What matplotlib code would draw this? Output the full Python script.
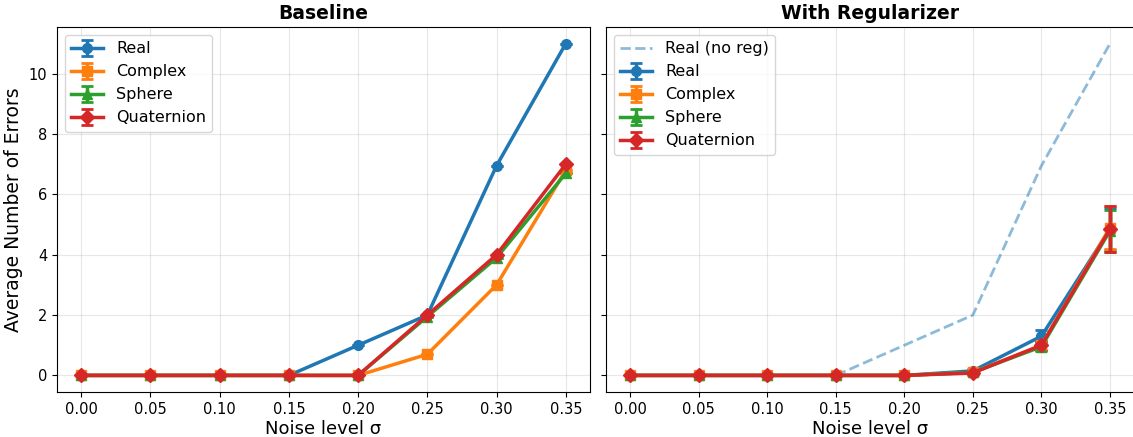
import numpy as np
import matplotlib.pyplot as plt

sigma = [0.00, 0.05, 0.10, 0.15, 0.20, 0.25, 0.30, 0.35]

base_real = [0, 0, 0, 0, 1.0, 2.0, 6.95, 11.0]
base_complex = [0, 0, 0, 0, 0, 0.7, 3.0, 6.8]
base_sphere = [0, 0, 0, 0, 0, 1.95, 3.9, 6.7]
base_quat = [0, 0, 0, 0, 0, 2.0, 4.0, 7.0]
base_err = [0, 0, 0, 0, 0, 0, 0, 0]

reg_real = [0, 0, 0, 0, 0, 0.15, 1.3, 4.85]
reg_real_err = [0, 0, 0, 0, 0, 0.05, 0.2, 0.7]
reg_complex = [0, 0, 0, 0, 0, 0.1, 1.0, 4.9]
reg_complex_err = [0, 0, 0, 0, 0, 0.05, 0.15, 0.7]
reg_sphere = [0, 0, 0, 0, 0, 0.1, 0.95, 4.8]
reg_sphere_err = [0, 0, 0, 0, 0, 0.05, 0.15, 0.7]
reg_quat = [0, 0, 0, 0, 0, 0.08, 1.0, 4.85]
reg_quat_err = [0, 0, 0, 0, 0, 0.05, 0.15, 0.75]

labels = ['Real', 'Complex', 'Sphere', 'Quaternion']
colors = ['#1f77b4', '#ff7f0e', '#2ca02c', '#d62728']
markers = ['o', 's', '^', 'D']

W, H = 1133, 437
fig, axes = plt.subplots(1, 2, figsize=(W / 100, H / 100), dpi=100, sharey=True)
axes[0].set_position([57 / W, 45 / H, 533 / W, 365 / H])
axes[1].set_position([606 / W, 45 / H, 528 / W, 365 / H])

ax = axes[0]
for y, lab, c, m in zip([base_real, base_complex, base_sphere, base_quat], labels, colors, markers):
    ax.errorbar(sigma, y, yerr=base_err, label=lab, color=c, marker=m,
                linewidth=2.5, markersize=7, capsize=4, capthick=2)
ax.set_title('Baseline', fontsize=13.5, fontweight='bold')
ax.set_xlabel('Noise level σ', fontsize=13, labelpad=2)
ax.set_ylabel('Average Number of Errors', fontsize=13.5)
ax.legend(fontsize=11.5, loc='upper left')
ax.grid(True, alpha=0.3)

ax = axes[1]
ax.plot(sigma, base_real, '--', color='#1f77b4', alpha=0.5, linewidth=2, label='Real (no reg)')
for y, e, lab, c, m in zip([reg_real, reg_complex, reg_sphere, reg_quat],
                           [reg_real_err, reg_complex_err, reg_sphere_err, reg_quat_err],
                           labels, colors, markers):
    ax.errorbar(sigma, y, yerr=e, label=lab, color=c, marker=m,
                linewidth=2.5, markersize=7, capsize=4, capthick=2)
ax.set_title('With Regularizer', fontsize=13.5, fontweight='bold')
ax.set_xlabel('Noise level σ', fontsize=13, labelpad=2)
ax.legend(fontsize=11.5, loc='upper left')
ax.grid(True, alpha=0.3)

for ax in axes:
    ax.set_xticks(sigma)
    ax.set_xticklabels(['%.2f' % s for s in sigma])
    ax.tick_params(labelsize=10.5)

plt.savefig('out.png')
